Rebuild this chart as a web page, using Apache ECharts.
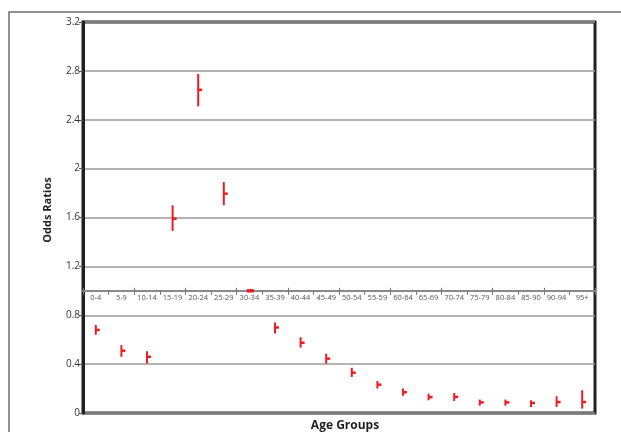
<!DOCTYPE html>
<html>
<head>
<meta charset="utf-8">
<script src="https://cdn.jsdelivr.net/npm/echarts@6/dist/echarts.min.js"></script>
<style>html,body{margin:0;padding:0;background:#fff}#c{width:621px;height:432px}</style>
</head>
<body>
<div id="c"></div>
<script>
var categories = ['0-4','5-9','10-14','15-19','20-24','25-29','30-34','35-39','40-44','45-49','50-54','55-59','60-64','65-69','70-74','75-79','80-84','85-90','90-94','95+'];
var orPoint = [0.68,0.51,0.46,1.59,2.645,1.795,1.0,0.70,0.575,0.445,0.33,0.232,0.17,0.13,0.132,0.087,0.087,0.082,0.09,0.09];
var orLow   = [0.64,0.46,0.405,1.49,2.51,1.70,1.0,0.65,0.535,0.405,0.295,0.20,0.142,0.104,0.098,0.06,0.06,0.05,0.05,0.036];
var orHigh  = [0.72,0.555,0.505,1.70,2.775,1.89,1.0,0.74,0.62,0.485,0.37,0.262,0.20,0.158,0.164,0.11,0.11,0.105,0.137,0.186];
var yMin = 0, yMax = 3.2, yStep = 0.4, axisCross = 1;

var gridTop = 22, gridBottom = 19, H = 432;
var gridH = H - gridTop - gridBottom;
var crossOffset = -gridH * (axisCross - yMin) / (yMax - yMin);
var chart = echarts.init(document.getElementById('c'));
var data = categories.map(function (c, i) { return [i, orLow[i], orHigh[i], orPoint[i]]; });
var red = '#ed1c24';
chart.setOption({
  animation: false,
  textStyle: { fontFamily: 'Open Sans' },
  graphic: [
    { type: 'rect', shape: { x: 9, y: 12, width: 700, height: 500 }, style: { fill: 'none', stroke: '#6d6d6d', lineWidth: 1.5 }, z: -10 },
    { type: 'text', x: 48, y: 210, rotation: Math.PI / 2, style: { text: 'Odds Ratios', font: 'bold 11px "Open Sans"', fill: '#231f20', textAlign: 'center', textVerticalAlign: 'middle' } },
    { type: 'text', x: 345, y: 426, style: { text: 'Age Groups', font: 'bold 12px "Open Sans"', fill: '#231f20', textAlign: 'center', textVerticalAlign: 'middle' } }
  ],
  grid: { left: 83, right: 26, top: gridTop, bottom: gridBottom, show: true, borderColor: '#231f20', borderWidth: 3, backgroundColor: 'transparent' },
  xAxis: [{
    type: 'category', data: categories, boundaryGap: true, position: 'bottom',
    offset: crossOffset,
    axisLine: { show: true, lineStyle: { color: '#8a8a8a', width: 2 } },
    axisTick: { show: true, length: 4, lineStyle: { color: '#777', width: 1 } },
    axisLabel: { color: '#555', fontSize: 7.5, margin: 3, interval: 0 },
    splitLine: { show: false }
  }, {
    type: 'category', data: categories, boundaryGap: true, position: 'bottom',
    offset: crossOffset,
    axisLine: { show: false },
    axisTick: { show: true, inside: true, length: 3, lineStyle: { color: '#777', width: 1 } },
    axisLabel: { show: false },
    splitLine: { show: false }
  }],
  yAxis: {
    type: 'value', min: yMin, max: yMax, interval: yStep,
    axisLine: { show: true, lineStyle: { color: '#231f20', width: 3 } },
    axisTick: { show: true, length: 4, lineStyle: { color: '#555' } },
    axisLabel: { color: '#333', fontSize: 10, margin: 3 },
    splitLine: { show: true, lineStyle: { color: '#9a9a9a', width: 1.5 } }
  },
  series: [{
    type: 'custom',
    data: data,
    renderItem: function (params, api) {
      var x = api.coord([api.value(0), 0])[0];
      var yl = api.coord([api.value(0), api.value(1)])[1];
      var yh = api.coord([api.value(0), api.value(2)])[1];
      var yp = api.coord([api.value(0), api.value(3)])[1];
      var children = [];
      if (Math.abs(yl - yh) > 0.5) {
        children.push({ type: 'line', shape: { x1: x, y1: yh, x2: x, y2: yl }, style: { stroke: red, lineWidth: 2 } });
        children.push({ type: 'line', shape: { x1: x, y1: yp, x2: x + 4, y2: yp }, style: { stroke: red, lineWidth: 2.5 } });
      } else {
        children.push({ type: 'line', shape: { x1: x - 2.5, y1: yp, x2: x + 4.5, y2: yp }, style: { stroke: red, lineWidth: 3.5 } });
      }
      return { type: 'group', children: children };
    },
    z: 10
  }]
});
</script>
</body>
</html>
